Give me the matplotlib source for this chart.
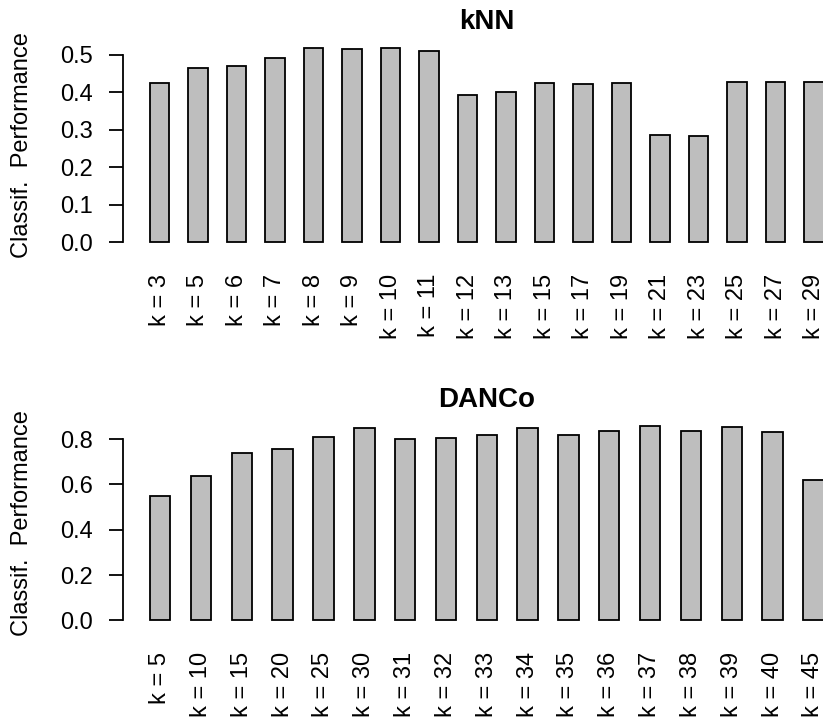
import matplotlib
matplotlib.use('Agg')
import matplotlib.pyplot as plt
import numpy as np

plt.rcParams['font.family'] = ['Liberation Sans', 'DejaVu Sans']

# classification performance per neighbourhood size
knn_k = [3, 5, 6, 7, 8, 9, 10, 11, 12, 13, 15, 17, 19, 21, 23, 25, 27, 29]
knn_perf = [0.424, 0.464, 0.471, 0.491, 0.518, 0.517, 0.518, 0.511, 0.392,
            0.400, 0.424, 0.422, 0.424, 0.286, 0.284, 0.429, 0.429, 0.429]

danco_k = [5, 10, 15, 20, 25, 30, 31, 32, 33, 34, 35, 36, 37, 38, 39, 40, 45]
danco_perf = [0.550, 0.638, 0.741, 0.755, 0.810, 0.850, 0.801, 0.803, 0.819,
              0.850, 0.820, 0.835, 0.859, 0.835, 0.852, 0.831, 0.621]

W, H = 823, 726
fig = plt.figure(figsize=(W / 100, H / 100), dpi=100)

LW = 1.3
FS = 17


def barpanel(rect, ks, vals, title, yticks):
    ax = fig.add_axes(rect)
    n = len(vals)
    # barplot layout: width 1, space 1
    left = np.arange(n) * 2 + 1
    ax.bar(left + 0.5, vals, width=1, color='#bebebe', edgecolor='black',
           linewidth=LW, clip_on=False)
    lo, hi = 1, 2 * n
    ext = 0.04 * (hi - lo)
    ax.set_xlim(lo - ext, hi + ext)
    top = max(vals)
    ax.set_ylim(-0.04 * top, 1.04 * top)

    for s in ['top', 'right', 'bottom']:
        ax.spines[s].set_visible(False)
    ax.spines['left'].set_linewidth(LW)
    ax.spines['left'].set_bounds(yticks[0], yticks[-1])

    ax.set_yticks(yticks, ['%.1f' % t for t in yticks])
    ax.tick_params(axis='y', direction='out', length=10.4, width=LW,
                   labelsize=FS, pad=11)
    ax.set_xticks(left + 0.5, ['k = %d' % k for k in ks], rotation=90)
    ax.tick_params(axis='x', length=0, labelsize=FS, pad=17)

    ax.set_title(title, fontsize=20, fontweight='bold', pad=8)
    ax.text(-0.139, 0.5, 'Classif.  Performance', rotation=90, ha='center',
            va='center', fontsize=FS, transform=ax.transAxes)
    return ax


pw = 727.6
barpanel([123 / W, (H - 250) / H, pw / W, (250 - 40.4) / H],
         knn_k, knn_perf, 'kNN', [0.0, 0.1, 0.2, 0.3, 0.4, 0.5])
barpanel([123 / W, (H - 628.1) / H, pw / W, (628.1 - 418) / H],
         danco_k, danco_perf, 'DANCo', [0.0, 0.2, 0.4, 0.6, 0.8])

fig.savefig('out.png', dpi=100)
